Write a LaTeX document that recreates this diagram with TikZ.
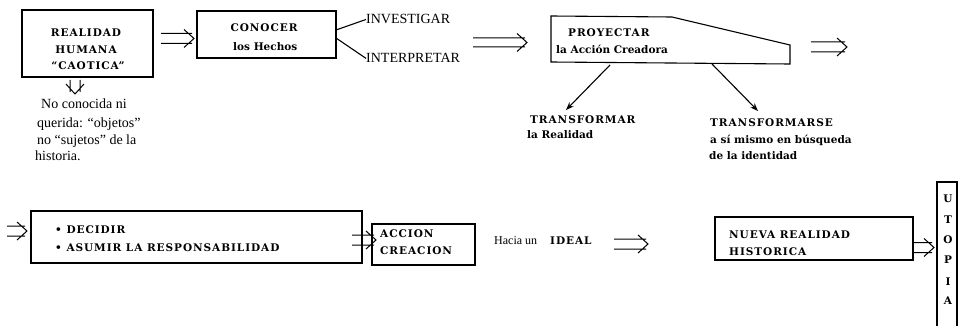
\documentclass[tikz,border=0pt]{standalone}
\usepackage{fontspec}
\setmainfont{Liberation Serif}
\newfontfamily\slab{DejaVu Serif}
\newfontfamily\slabcaps{DejaVu Serif}[LetterSpace=9]
\usetikzlibrary{arrows.meta,calc}
\tikzset{
  x=1pt,y=-1pt,
  box/.style={draw=black,line width=1.1pt,inner sep=0pt,rectangle},
  hd/.style={inner sep=0pt,anchor=base west,font=\slab\bfseries\fontsize{10.5}{12}\selectfont},
  hdc/.style={inner sep=0pt,anchor=base west,font=\slabcaps\bfseries\fontsize{10.5}{12}\selectfont},
  hdm/.style={inner sep=0pt,anchor=base,font=\slabcaps\bfseries\fontsize{10.5}{12}\selectfont},
  rm/.style={inner sep=0pt,anchor=base west,font=\fontsize{14}{16}\selectfont},
  rms/.style={inner sep=0pt,anchor=base west,font=\fontsize{12}{14}\selectfont},
  line/.style={draw=black,line width=1.1pt},
  dbl/.style={draw=black,line width=1pt,to path={
    ($(\tikztostart)!#1!90:(\tikztotarget)$) -- ($(\tikztotarget)!2pt!(\tikztostart)!#1!-90:(\tikztostart)$)
    ($(\tikztostart)!#1!-90:(\tikztotarget)$) -- ($(\tikztotarget)!2pt!(\tikztostart)!#1!90:(\tikztostart)$)
    ($(\tikztotarget)!10pt!(\tikztostart)!9pt!90:(\tikztostart)$) -- (\tikztotarget) -- ($(\tikztotarget)!10pt!(\tikztostart)!9pt!-90:(\tikztostart)$)
  }},
  arr/.style={draw=black,line width=1.1pt,-{Stealth[length=8pt,width=6pt]}},
}
\begin{document}
\begin{tikzpicture}
\useasboundingbox (0,0) rectangle (965,326);
\fill[white] (0,0) rectangle (965,326);
% boxes
\node[box,minimum width=131pt,minimum height=67pt] (b1) at (87.5,43.5) {};
\node[box,minimum width=139pt,minimum height=47pt] (b2) at (266.5,34.5) {};
\node[box,minimum width=331pt,minimum height=52pt] (b3) at (196.5,237) {};
\node[box,minimum width=103pt,minimum height=41pt] (b4) at (423.5,244.5) {};
\node[box,minimum width=198pt,minimum height=43pt] (b5) at (814,238.5) {};
% text in boxes
\node[hdm] (t1) at (86,37) {REALIDAD};
\node[hdm] (t2) at (86,54) {HUMANA};
\node[hdm] (t3) at (88,70) {“CAOTICA”};
\node[hdm] (t4) at (264,32) {CONOCER};
\node[hd] (t5) at (233,51) {los Hechos};
\node[rm] (i1) at (366,24) {INVESTIGAR};
\node[rm] (i2) at (366,63) {INTERPRETAR};
\node[hdc] (p1) at (568,37) {PROYECTAR};
\node[hd] (p2) at (556,54) {la Acción Creadora};
\node[hdc] (tr1) at (530,123) {TRANSFORMAR};
\node[hd] (tr2) at (527,139) {la Realidad};
\node[hdc] (ts1) at (710,126) {TRANSFORMARSE};
\node[hd] (ts2) at (710,143) {a sí mismo en búsqueda};
\node[hd] (ts3) at (709,159) {de la identidad};
\node[rm] (n1) at (41,109) {No conocida ni};
\node[rm] (n2) at (37,127) {querida: “objetos”};
\node[rm] (n3) at (37,144) {no “sujetos” de la};
\node[rm] (n4) at (35,160) {historia.};
\node[hdc] (d1) at (55,233) {• DECIDIR};
\node[hdc] (d2) at (55,251) {• ASUMIR LA RESPONSABILIDAD};
\node[hdc] (a1) at (380,237) {ACCION};
\node[hdc] (a2) at (380,254) {CREACION};
\node[rms] (h1) at (494,244) {Hacia un\hspace{13pt}{\slabcaps\bfseries\fontsize{10.5}{12}\selectfont IDEAL}};
\node[hdc] (r1) at (729,238) {NUEVA REALIDAD};
\node[hdc] (r2) at (729,255) {HISTORICA};
% utopia
\coordinate (ub1) at (937,326);
\coordinate (ub2) at (957,326);
\draw[line] (ub1) -- (937,182) -- (957,182) -- (ub2);
\node[hdm] (u1) at (948,202) {U};
\node[hdm] (u2) at (948,223) {T};
\node[hdm] (u3) at (948,243) {O};
\node[hdm] (u4) at (948,263) {P};
\node[hdm] (u5) at (948,285) {I};
\node[hdm] (u6) at (948,304) {A};
% polygon
\coordinate (pa) at (551,16);
\coordinate (pb) at (672,17);
\coordinate (pc) at (790,45);
\coordinate (pd) at (790,64);
\coordinate (pe) at (551,62);
\draw[line] (pa) -- (pb) -- (pc) -- (pd) -- (pe) -- cycle;
% thin lines
\coordinate (c1) at (336,30);
\coordinate (c2) at (336,38);
\draw[line] (c1) -- (i1.west);
\draw[line] (c2) -- (i2.west);
% diagonal arrows
\coordinate (f1) at (610,65);
\coordinate (f2) at (712,64);
\coordinate (g1) at (566,110);
\coordinate (g2) at (758,111);
\draw[arr] (f1) -- (g1);
\draw[arr] (f2) -- (g2);
% double arrows
\coordinate (A1) at (161,38.5); \coordinate (A2) at (194,38.5);
\coordinate (B1) at (473,42.5); \coordinate (B2) at (527,42.5);
\coordinate (C1) at (811,47); \coordinate (C2) at (847,47);
\coordinate (D1) at (7,231); \coordinate (D2) at (27,231);
\coordinate (E1) at (352,240); \coordinate (E2) at (376,240);
\coordinate (F1) at (614,244); \coordinate (F2) at (648,244);
\coordinate (G1) at (913,247.5); \coordinate (G2) at (934,247.5);
\coordinate (H1) at (75,80); \coordinate (H2) at (75,94);
\draw[dbl=5pt] (A1) to (A2);
\draw[dbl=4.5pt] (B1) to (B2);
\draw[dbl=5pt] (C1) to (C2);
\draw[dbl=5pt] (D1) to (D2);
\draw[dbl=5pt] (E1) to (E2);
\draw[dbl=5pt] (F1) to (F2);
\draw[dbl=5pt] (G1) to (G2);
\draw[dbl=5pt] (H1) to (H2);
\end{tikzpicture}
\end{document}
